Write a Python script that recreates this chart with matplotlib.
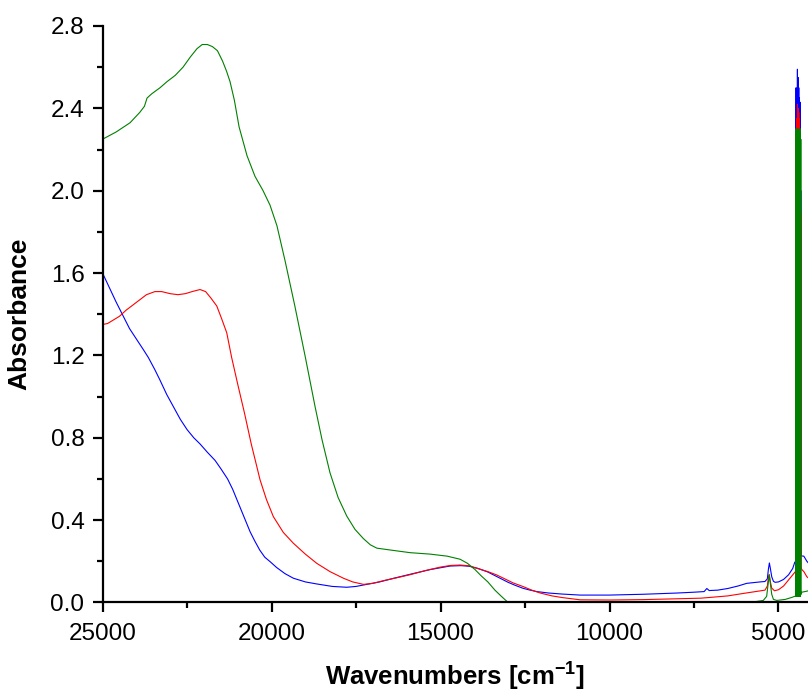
"""
plot.py
-------

Draws three UV-Vis-NIR absorbance spectra (blue, red and green samples) on a
reversed wavenumber axis and saves the figure as ``out.png``.
"""

import matplotlib.pyplot as plt
from matplotlib.ticker import MultipleLocator

# Blue sample spectrum
blue_wn = [25000, 24800, 24600, 24385, 24200, 24000, 23800, 23645, 23450, 23300,
           23100, 22900, 22700, 22500, 22300, 22115, 21900, 21670, 21500, 21300,
           21150, 21000, 20800, 20635, 20500, 20350, 20200, 20040, 19850, 19600,
           19355, 19000, 18660, 18200, 17775, 17500, 17180, 16800, 16400, 15900,
           15300, 14720, 14400, 14150, 13900, 13600, 13300, 13000, 12800, 12560,
           12350, 12150, 11800, 11400, 10870, 10000, 9000, 8000, 7500, 7200,
           7120, 7050, 6800, 6500, 6200, 5940, 5540, 5400, 5330, 5300, 5270,
           5240, 5200, 5150, 5100, 5000, 4850, 4700, 4580, 4520,
           4490, 4480, 4470, 4460, 4450, 4440, 4430, 4420, 4410, 4400, 4390,
           4380, 4370, 4360, 4350, 4340, 4330,
           4310, 4250, 4160, 4050]
blue_abs = [1.60, 1.53, 1.46, 1.39, 1.33, 1.28, 1.23, 1.19, 1.13, 1.08,
            1.01, 0.95, 0.89, 0.84, 0.80, 0.77, 0.73, 0.69, 0.65, 0.60,
            0.55, 0.49, 0.41, 0.344, 0.30, 0.255, 0.22, 0.198, 0.17, 0.14,
            0.118, 0.100, 0.090, 0.078, 0.074, 0.078, 0.088, 0.100, 0.117, 0.137,
            0.160, 0.177, 0.179, 0.176, 0.166, 0.148, 0.123, 0.098, 0.084, 0.069,
            0.060, 0.053, 0.046, 0.041, 0.036, 0.036, 0.040, 0.046, 0.050, 0.053,
            0.068, 0.058, 0.060, 0.068, 0.080, 0.093, 0.100, 0.102, 0.115, 0.160, 0.192,
            0.165, 0.125, 0.103, 0.098, 0.100, 0.112, 0.135, 0.165, 0.195,
            0.20, 2.50, 0.30, 2.45, 0.50, 2.59, 0.40, 2.55, 0.30, 2.50, 0.40,
            2.45, 0.50, 2.43, 0.30, 2.00, 0.23,
            0.226, 0.225, 0.200, 0.180]

# Red sample spectrum
red_wn = [25000, 24850, 24700, 24500, 24300, 24100, 23900, 23700, 23450, 23250,
          23000, 22770, 22550, 22350, 22115, 21950, 21800, 21620, 21480, 21325,
          21180, 21000, 20800, 20600, 20450, 20340, 20150, 19946, 19650, 19355,
          19000, 18660, 18270, 17875, 17600, 17280, 17000, 16690, 16300, 15900,
          15450, 15000, 14700, 14420, 14150, 13900, 13600, 13340, 13100, 12850,
          12550, 12300, 12050, 11700, 11400, 10870, 10000, 9000, 8000, 7300,
          7000, 6500, 6000, 5600, 5400, 5330, 5300, 5280, 5240, 5200, 5120,
          5000, 4850, 4700, 4550, 4500,
          4490, 4480, 4470, 4460, 4450, 4440, 4430, 4420, 4410, 4400, 4390,
          4380, 4370, 4360, 4350, 4340, 4330,
          4310, 4250, 4160, 4050]
red_abs = [1.35, 1.355, 1.37, 1.39, 1.42, 1.445, 1.47, 1.495, 1.51, 1.51,
           1.50, 1.495, 1.50, 1.51, 1.52, 1.51, 1.48, 1.44, 1.38, 1.31,
           1.19, 1.06, 0.92, 0.77, 0.67, 0.596, 0.50, 0.417, 0.34, 0.288,
           0.235, 0.190, 0.150, 0.118, 0.100, 0.088, 0.093, 0.106, 0.120, 0.135,
           0.155, 0.172, 0.180, 0.182, 0.178, 0.165, 0.150, 0.134, 0.115, 0.095,
           0.077, 0.060, 0.046, 0.032, 0.024, 0.013, 0.012, 0.014, 0.018, 0.021,
           0.025, 0.032, 0.045, 0.055, 0.060, 0.080, 0.120, 0.135, 0.100, 0.070, 0.057,
           0.062, 0.080, 0.110, 0.140, 0.150,
           0.15, 2.30, 0.25, 2.35, 0.40, 2.42, 0.30, 2.40, 0.25, 2.38, 0.30,
           2.35, 0.40, 2.30, 0.25, 1.90, 0.17,
           0.160, 0.150, 0.125, 0.110]

# Green sample spectrum
green_wn = [25000, 24600, 24186, 23900, 23760, 23683, 23550, 23300, 23090, 22850,
            22618, 22400, 22204, 22050, 21900, 21750, 21600, 21450, 21330, 21228,
            21100, 20960, 20725, 20490, 20250, 20045, 19840, 19600, 19310, 19010,
            18710, 18505, 18270, 18030, 17775, 17530, 17280, 17075, 16885, 16490,
            15900, 15310, 14800, 14420, 14200, 13980, 13800, 13600, 13390, 13200,
            13000, 12800, 11000, 9000, 7300, 6000, 5450, 5350,
            5300, 5270, 5240, 5200, 5150, 5050, 4800, 4600, 4520,
            4490, 4480, 4470, 4460, 4450, 4440, 4430, 4420, 4410, 4400, 4390,
            4380, 4370, 4360, 4350, 4340, 4330,
            4310, 4160, 4050]
green_abs = [2.25, 2.285, 2.33, 2.38, 2.41, 2.45, 2.47, 2.50, 2.53, 2.56,
             2.60, 2.65, 2.69, 2.71, 2.71, 2.70, 2.68, 2.63, 2.58, 2.53,
             2.44, 2.31, 2.17, 2.07, 2.00, 1.93, 1.83, 1.66, 1.44, 1.20,
             0.95, 0.79, 0.63, 0.51, 0.42, 0.355, 0.31, 0.28, 0.264, 0.255,
             0.242, 0.235, 0.225, 0.210, 0.190, 0.160, 0.130, 0.100, 0.060, 0.030,
             0.000, -0.010, -0.008, -0.006, 0.002, -0.004, 0.010, 0.030,
             0.100, 0.135, 0.090, 0.040, 0.015, 0.010, 0.015, 0.025, 0.030,
             0.03, 2.30, 0.03, 2.28, 0.03, 2.30, 0.03, 2.29, 0.03, 2.30, 0.03,
             2.28, 0.03, 2.30, 0.03, 2.25, 0.04,
             0.050, 0.055, 0.060]

FONT = "Liberation Sans"


def main() -> None:
    plt.rcParams["font.family"] = [FONT, "DejaVu Sans"]
    plt.rcParams["mathtext.fontset"] = "custom"
    plt.rcParams["mathtext.rm"] = FONT
    plt.rcParams["mathtext.bf"] = FONT + ":bold"

    fig = plt.figure(figsize=(8.08, 6.93), dpi=100)
    ax = fig.add_axes([0.1269, 0.1306, 0.8731, 0.8319])

    ax.plot(blue_wn, blue_abs, color="#0000ff", lw=0.8)
    ax.plot(red_wn, red_abs, color="#ff0000", lw=0.8)
    ax.plot(green_wn, green_abs, color="#008000", lw=0.8)

    ax.set_xlim(25000, 4127)
    ax.set_ylim(0, 2.8)

    # Only left and bottom axes
    for side in ("top", "right"):
        ax.spines[side].set_visible(False)
    for side in ("left", "bottom"):
        ax.spines[side].set_linewidth(1.6)

    ax.xaxis.set_major_locator(MultipleLocator(5000))
    ax.xaxis.set_minor_locator(MultipleLocator(2500))
    ax.yaxis.set_major_locator(MultipleLocator(0.4))
    ax.yaxis.set_minor_locator(MultipleLocator(0.2))
    ax.tick_params(which="major", direction="out", length=7, width=1.6,
                   labelsize=17.5)
    ax.tick_params(axis="x", which="major", pad=8)
    ax.tick_params(axis="y", which="major", pad=6)
    ax.tick_params(which="minor", direction="out", length=4, width=1.6)
    ax.yaxis.set_major_formatter(plt.FuncFormatter(lambda v, _: f"{v:.1f}"))

    ax.set_xlabel("Wavenumbers [cm$^{\\mathbf{-1}}$]", fontsize=18.5,
                  fontweight="bold", labelpad=10)
    ax.set_ylabel("Absorbance", fontsize=19, fontweight="bold", labelpad=14)

    fig.savefig("out.png", dpi=100)
    plt.close(fig)


if __name__ == "__main__":
    main()
